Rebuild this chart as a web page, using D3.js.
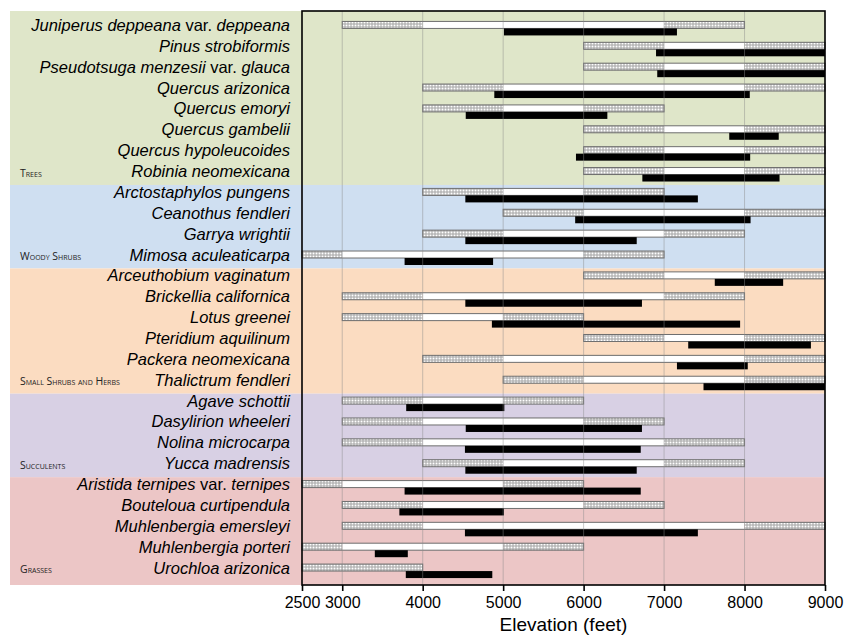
<!DOCTYPE html>
<html>
<head>
<meta charset="utf-8">
<script src="https://cdn.jsdelivr.net/npm/d3@7/dist/d3.min.js"></script>
<style>
  html, body { margin: 0; padding: 0; background: #ffffff; }
  svg { display: block; }
</style>
</head>
<body>
<svg id="chart" width="846" height="638"></svg>
<script>
// ---------------- DATA ----------------
const groups = ["Trees", "Woody Shrubs", "Small Shrubs and Herbs", "Succulents", "Grasses"];
const groupColors = ["#dfe6c9", "#cfdff1", "#fbdcc1", "#d8d0e4", "#ecc6c6"];
const species = [
  "Juniperus deppeana var. deppeana", "Pinus strobiformis", "Pseudotsuga menzesii var. glauca",
  "Quercus arizonica", "Quercus emoryi", "Quercus gambelii", "Quercus hypoleucoides", "Robinia neomexicana",
  "Arctostaphylos pungens", "Ceanothus fendleri", "Garrya wrightii", "Mimosa aculeaticarpa",
  "Arceuthobium vaginatum", "Brickellia californica", "Lotus greenei", "Pteridium aquilinum",
  "Packera neomexicana", "Thalictrum fendleri",
  "Agave schottii", "Dasylirion wheeleri", "Nolina microcarpa", "Yucca madrensis",
  "Aristida ternipes var. ternipes", "Bouteloua curtipendula", "Muhlenbergia emersleyi",
  "Muhlenbergia porteri", "Urochloa arizonica"
];
const speciesGroup = [0,0,0,0,0,0,0,0, 1,1,1,1, 2,2,2,2,2,2, 3,3,3,3, 4,4,4,4,4];
// reported range (outer, dotted ends) and core range (white)
const outerLo = [3000,6000,6000,4000,4000,6000,6000,6000, 4000,5000,4000,2500, 6000,3000,3000,6000,4000,5000, 3000,3000,3000,4000, 2500,3000,3000,2500,2500];
const innerLo = [4000,7000,7000,5000,5000,7000,7000,7000, 5000,6000,5000,3000, 7000,4000,4000,7000,5000,6000, 4000,4000,4000,5000, 3000,4000,4000,3000,4000];
const innerHi = [7000,8000,8000,8000,6000,8000,8000,8000, 6000,8000,7000,6000, 8000,7000,5000,8000,8000,8000, 5000,6000,7000,7000, 5000,6000,8000,5000,4000];
const outerHi = [8000,9000,9000,9000,7000,9000,9000,9000, 7000,9000,8000,7000, 9000,8000,6000,9000,9000,9000, 6000,7000,8000,8000, 6000,7000,9000,6000,4000];
// observed range (black)
const obsLo = [5010,6900,6915,4890,4535,7810,5905,6730, 4530,5895,4530,3775, 7630,4530,4860,7300,7160,7490, 3795,4535,4525,4530, 3775,3710,4525,3405,3790];
const obsHi = [7160,9000,9000,8065,6295,8425,8070,8435, 7420,8075,6660,4875, 8480,6725,7945,8825,8040,9000, 5015,6725,6710,6660, 6710,5010,7420,3815,4865];
const tickValues = [2500,3000,4000,5000,6000,7000,8000,9000];
const gridValues = [3000,4000,5000,6000,7000,8000];
const xTitle = "Elevation (feet)";

// ---------------- LAYOUT ----------------
const svg = d3.select("#chart");
const plotL = 302, plotR = 825, plotT = 11, plotB = 585, bandLeft = 10;
const x = d3.scaleLinear().domain([2500, 9000]).range([plotL, plotR]);
const y = d3.scaleBand().domain(species).range([18, 581.5]).padding(0);
const bw = y.bandwidth();
const barH = 7;

const rows = species.map((s, i) => ({
  name: s, g: speciesGroup[i],
  oLo: outerLo[i], iLo: innerLo[i], iHi: innerHi[i], oHi: outerHi[i],
  bLo: obsLo[i], bHi: obsHi[i]
}));

// pattern for dotted segments
const defs = svg.append("defs");
const pat = defs.append("pattern").attr("id", "dots")
  .attr("patternUnits", "userSpaceOnUse").attr("width", 3).attr("height", 3);
pat.append("rect").attr("width", 3).attr("height", 3).attr("fill", "#a4a4a4");
pat.append("rect").attr("x", 0.5).attr("y", 0.5).attr("width", 2).attr("height", 2).attr("fill", "#ffffff");

// group backgrounds
groups.forEach((g, gi) => {
  const idx = speciesGroup.map((v, i) => v === gi ? i : -1).filter(i => i >= 0);
  const first = idx[0], last = idx[idx.length - 1];
  const top = gi === 0 ? plotT : y(species[first]);
  const bottom = gi === groups.length - 1 ? plotB : y(species[last]) + bw;
  svg.append("rect").attr("x", bandLeft).attr("y", top)
    .attr("width", plotR - bandLeft).attr("height", bottom - top)
    .attr("fill", groupColors[gi]);
  svg.append("text").attr("x", 20).attr("y", y(species[last]) + bw / 2 + 2)
    .attr("font-family", "'Open Sans', 'Liberation Sans', sans-serif")
    .attr("font-size", 10.5).attr("font-variant", "small-caps")
    .attr("fill", "#222").text(g);
});

// bars
const bars = svg.append("g");
rows.forEach(r => {
  const cy = y(r.name) + bw / 2;
  const gg = bars.append("g");
  gg.append("rect").attr("x", x(r.oLo)).attr("y", cy - barH).attr("width", x(r.iLo) - x(r.oLo)).attr("height", barH).attr("fill", "url(#dots)");
  gg.append("rect").attr("x", x(r.iLo)).attr("y", cy - barH).attr("width", x(r.iHi) - x(r.iLo)).attr("height", barH).attr("fill", "#ffffff");
  gg.append("rect").attr("x", x(r.iHi)).attr("y", cy - barH).attr("width", x(r.oHi) - x(r.iHi)).attr("height", barH).attr("fill", "url(#dots)");
  gg.append("rect").attr("x", x(r.oLo)).attr("y", cy - barH).attr("width", x(r.oHi) - x(r.oLo)).attr("height", barH)
    .attr("fill", "none").attr("stroke", "#6e6e6e").attr("stroke-width", 1);
  gg.append("rect").attr("x", x(r.bLo)).attr("y", cy).attr("width", x(r.bHi) - x(r.bLo)).attr("height", barH).attr("fill", "#000000");
});

// gridlines (on top, translucent)
svg.append("g").selectAll("line").data(gridValues).join("line")
  .attr("x1", d => x(d)).attr("x2", d => x(d)).attr("y1", plotT).attr("y2", plotB)
  .attr("stroke", "#8a8a8a").attr("stroke-opacity", 0.45).attr("stroke-width", 1);

// species labels
const labels = svg.append("g")
  .attr("font-family", "'Liberation Sans', Arial, sans-serif")
  .attr("font-size", 16.5).attr("fill", "#000").attr("text-anchor", "end");
rows.forEach(r => {
  const t = labels.append("text").attr("x", 290).attr("y", y(r.name) + bw / 2 + 2.5);
  const parts = r.name.split(" var. ");
  t.append("tspan").attr("font-style", "italic").text(parts[0]);
  if (parts.length > 1) {
    t.append("tspan").text(" var. ");
    t.append("tspan").attr("font-style", "italic").text(parts[1]);
  }
});

// frame
svg.append("rect").attr("x", plotL).attr("y", plotT).attr("width", plotR - plotL).attr("height", plotB - plotT)
  .attr("fill", "none").attr("stroke", "#000").attr("stroke-width", 1.6);

// axis
const axis = svg.append("g").attr("transform", `translate(0,${plotB})`)
  .call(d3.axisBottom(x).tickValues(tickValues).tickFormat(d3.format("d")).tickSize(6).tickSizeOuter(0).tickPadding(6));
axis.select(".domain").remove();
axis.selectAll(".tick line").attr("stroke", "#000").attr("stroke-width", 1.6);
axis.selectAll(".tick text").attr("font-family", "'Liberation Sans', Arial, sans-serif").attr("font-size", 16).attr("fill", "#000");

svg.append("text").attr("x", (plotL + plotR) / 2).attr("y", 631)
  .attr("text-anchor", "middle").attr("font-family", "'Liberation Sans', Arial, sans-serif")
  .attr("font-size", 19).attr("fill", "#000").text(xTitle);
</script>
</body>
</html>
